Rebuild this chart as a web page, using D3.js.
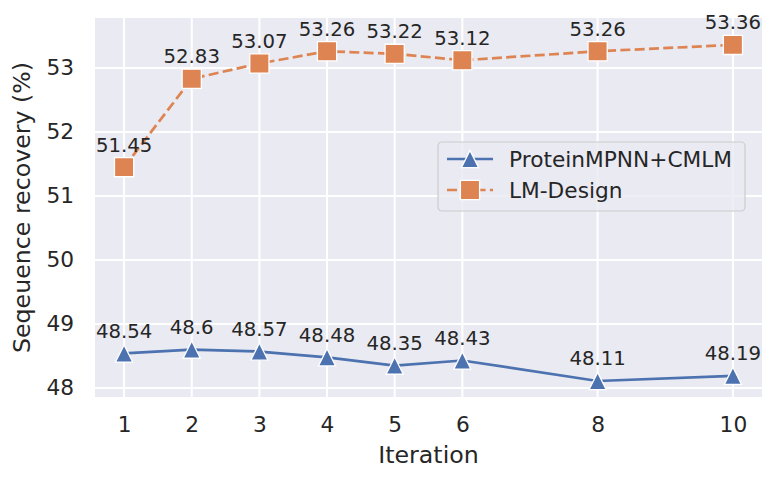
<!DOCTYPE html>
<html>
<head>
<meta charset="utf-8">
<script src="https://cdn.jsdelivr.net/npm/d3@7"></script>
<style>
  body { margin: 0; background: #fff; }
  text { font-family: "DejaVu Sans", sans-serif; fill: #262626; }
</style>
</head>
<body>
<div id="chart"></div>
<script>
// Data
const iterations = [1, 2, 3, 4, 5, 6, 8, 10];
const cmlmValues = [48.54, 48.6, 48.57, 48.48, 48.35, 48.43, 48.11, 48.19];
const lmDesignValues = [51.45, 52.83, 53.07, 53.26, 53.22, 53.12, 53.26, 53.36];
const xTicks = [1, 2, 3, 4, 5, 6, 8, 10];
const yTicks = [48, 49, 50, 51, 52, 53];
const seriesNames = ['ProteinMPNN+CMLM', 'LM-Design'];

const svgWidth = 780, svgHeight = 483;
const margin = { top: 18, right: 18, bottom: 86, left: 95 };
const chartWidth = svgWidth - margin.left - margin.right;
const chartHeight = svgHeight - margin.top - margin.bottom;

const svg = d3.select('#chart').append('svg')
  .attr('width', svgWidth)
  .attr('height', svgHeight);

const chart = svg.append('g')
  .attr('transform', `translate(${margin.left}, ${margin.top})`);

// Scales
const xScale = d3.scaleLinear().domain([0.57, 10.43]).range([0, chartWidth]);
const yScale = d3.scaleLinear().domain([47.86, 53.78]).range([chartHeight, 0]);

// Background
chart.append('rect')
  .attr('width', chartWidth)
  .attr('height', chartHeight)
  .attr('fill', '#eaeaf2');

// Grid lines
chart.selectAll('.xgrid').data(xTicks).enter().append('line')
  .attr('x1', d => xScale(d)).attr('x2', d => xScale(d))
  .attr('y1', 0).attr('y2', chartHeight)
  .attr('stroke', '#fff').attr('stroke-width', 2);

chart.selectAll('.ygrid').data(yTicks).enter().append('line')
  .attr('x1', 0).attr('x2', chartWidth)
  .attr('y1', d => yScale(d)).attr('y2', d => yScale(d))
  .attr('stroke', '#fff').attr('stroke-width', 2);

// Axes (tick labels only)
const xAxis = chart.append('g')
  .attr('transform', `translate(0, ${chartHeight})`)
  .call(d3.axisBottom(xScale).tickValues(xTicks).tickSize(0).tickPadding(20).tickFormat(d3.format('d')));
const yAxis = chart.append('g')
  .call(d3.axisLeft(yScale).tickValues(yTicks).tickSize(0).tickPadding(21).tickFormat(d3.format('d')));
[xAxis, yAxis].forEach(ax => {
  ax.select('.domain').remove();
  ax.selectAll('text')
    .style('font-family', '"DejaVu Sans", sans-serif')
    .style('font-size', '21.7px')
    .style('fill', '#262626');
});

// Marker shapes (matplotlib-like '^' and 's')
function markerPath(type) {
  if (type === 'triangle') {
    const h = 8.6;
    return `M0,${-h}L${h},${h}L${-h},${h}Z`;
  }
  const h = 9.6;
  return `M${-h},${-h}H${h}V${h}H${-h}Z`;
}

// Series
const series = [
  { name: seriesNames[0], values: cmlmValues, color: '#4c72b0', dash: null, marker: 'triangle' },
  { name: seriesNames[1], values: lmDesignValues, color: '#dd8452', dash: '10,4.3', marker: 'square' }
];

const line = d3.line()
  .x(d => xScale(d.x))
  .y(d => yScale(d.y));

series.forEach(s => {
  const pts = iterations.map((x, i) => ({ x: x, y: s.values[i] }));

  chart.append('path')
    .datum(pts)
    .attr('d', line)
    .attr('fill', 'none')
    .attr('stroke', s.color)
    .attr('stroke-width', 2.7)
    .attr('stroke-dasharray', s.dash);

  chart.selectAll(null).data(pts).enter().append('path')
    .attr('transform', d => `translate(${xScale(d.x)}, ${yScale(d.y)})`)
    .attr('d', markerPath(s.marker))
    .attr('fill', s.color)
    .attr('stroke', '#fff')
    .attr('stroke-width', 1.3);

  chart.selectAll(null).data(pts).enter().append('text')
    .attr('x', d => xScale(d.x))
    .attr('y', d => yScale(d.y) - 15.5)
    .attr('text-anchor', 'middle')
    .style('font-size', '19.7px')
    .text(d => d.y);
});

// Legend
const legend = chart.append('g')
  .attr('transform', `translate(${438 - margin.left}, ${142 - margin.top})`);

legend.append('rect')
  .attr('width', 307)
  .attr('height', 69)
  .attr('rx', 4)
  .attr('fill', '#eaeaf2')
  .attr('fill-opacity', 0.8)
  .attr('stroke', '#cccccc')
  .attr('stroke-width', 1.2);

series.forEach((s, i) => {
  const row = legend.append('g').attr('transform', `translate(0, ${17 + i * 31})`);
  row.append('line')
    .attr('x1', 9).attr('x2', 55)
    .attr('stroke', s.color)
    .attr('stroke-width', 2.7)
    .attr('stroke-dasharray', s.dash ? '10,4.3' : null);
  row.append('path')
    .attr('transform', 'translate(32, 0)')
    .attr('d', markerPath(s.marker))
    .attr('fill', s.color)
    .attr('stroke', '#fff')
    .attr('stroke-width', 1.3);
  row.append('text')
    .attr('x', 71)
    .attr('y', 8)
    .style('font-size', '21.7px')
    .text(s.name);
});

// Axis labels
svg.append('text')
  .attr('x', margin.left + chartWidth / 2)
  .attr('y', 463)
  .attr('text-anchor', 'middle')
  .style('font-size', '23.7px')
  .text('Iteration');

svg.append('text')
  .attr('transform', `translate(30, ${margin.top + chartHeight / 2}) rotate(-90)`)
  .attr('text-anchor', 'middle')
  .style('font-size', '23.7px')
  .text('Seqeuence recovery (%)');
</script>
</body>
</html>
